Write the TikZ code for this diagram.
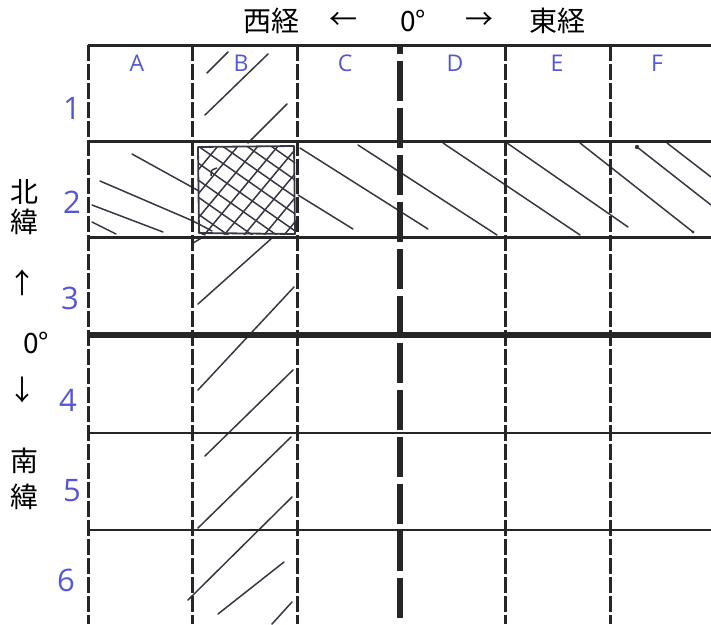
\documentclass[tikz,border=0pt]{standalone}
\usepackage{fontspec}
\newfontfamily\jp{Noto Sans CJK JP}
\newfontfamily\hand{Open Sans}
\definecolor{ink}{RGB}{85,85,215}
\definecolor{gridc}{RGB}{38,38,38}
\definecolor{pencil}{RGB}{55,55,68}
\begin{document}
\begin{tikzpicture}[x=1pt,y=-1pt,
  vline/.style={gridc,line width=3pt,dash pattern=on 16pt off 3pt},
  meridian/.style={gridc,line width=5.5pt,dash pattern=on 40pt off 7pt,dash phase=31pt},
  hline/.style={gridc,line width=#1},
  hatch/.style={pencil,line width=1.5pt,line cap=round},
  collbl/.style={text=ink,font=\hand\fontsize{23}{23}\selectfont,inner sep=0pt},
  rowlbl/.style={text=ink,font=\hand\fontsize{31}{31}\selectfont,inner sep=0pt},
  jlbl/.style={font=\jp\fontsize{28}{28}\selectfont,inner sep=0pt}]
\useasboundingbox (0,0) rectangle (711,624);
\begin{scope}
\clip (0,0) rectangle (711,624);
% hatching, row 2 (\ direction)
\draw[hatch] (132,154) -- (199,191);
\draw[hatch] (100,181) -- (193,221) -- (212,231);
\draw[hatch] (92,205) -- (163,232);
\draw[hatch] (92,222) -- (116,234);
\draw[hatch] (300,148) -- (428,229);
\draw[hatch] (298,195) -- (353,229);
\draw[hatch] (358,145) -- (497,235);
\draw[hatch] (443,143) -- (580,235);
\draw[hatch] (507,143) -- (628,227);
\draw[hatch] (580,143) -- (693,232);
\draw[hatch] (637,147) -- (711,205);
\draw[hatch] (667,143) -- (711,177);
\fill[pencil] (637,147) circle (2.2pt);
\fill[pencil] (693,232) circle (1.6pt);
% hatching, column B (/ direction)
\draw[hatch] (207,73) -- (228,52);
\draw[hatch] (268,54) -- (205,115);
\draw[hatch] (287,104) -- (248,143);
\draw[hatch] (193,243) -- (205,236);
\draw[hatch] (198,304) -- (272,238);
\draw[hatch] (294,287) -- (198,390);
\draw[hatch] (293,370) -- (205,456);
\draw[hatch] (291,437) -- (198,528);
\draw[hatch] (292,497) -- (188,600);
\draw[hatch] (284,562) -- (218,614);
\draw[hatch] (292,602) -- (272,624);
% cross-hatched cell B2
\begin{scope}
\clip (198,146) rectangle (295,234);
\foreach \k in {-2,...,10} {
  \draw[hatch] (198+20*\k,146) -- (198+20*\k-83,246);
}
\foreach \k in {-5,...,7} {
  \draw[hatch] (198,146+17*\k) -- (298,146+17*\k+70);
}
\end{scope}
\draw[pencil,line width=1.8pt,line join=round] (198,147) -- (294,146) -- (295,234) -- (199,233) -- cycle;
\draw[pencil,line width=1.5pt] (211,176) .. controls (211,170) .. (217,168);
% grid
\foreach \x in {88,192,297,505,610} {
  \draw[vline] (\x,45) -- (\x,624);
}
\draw[meridian] (400,45) -- (400,624);
\draw[hline=3pt] (88,45) -- (711,45);
\draw[hline=3pt] (88,141) -- (711,141);
\draw[hline=3pt] (88,237) -- (711,237);
\draw[hline=5.5pt] (88,335) -- (711,335);
\draw[hline=2.5pt] (88,433) -- (711,433);
\draw[hline=2.5pt] (88,530) -- (711,530);
\end{scope}
% title
\node[jlbl] (t1) at (271,21) {西経};
\node[jlbl] (t2) at (343,21) {←};
\node[jlbl] (t3) at (413,21) {0°};
\node[jlbl] (t4) at (479,21) {→};
\node[jlbl] (t5) at (557,21) {東経};
% left side
\node[jlbl] (n1) at (24,192) {北};
\node[jlbl] (n2) at (24,222) {緯};
\node[jlbl] (n3) at (23,283) {↑};
\node[jlbl] (n4) at (36,343) {0°};
\node[jlbl] (n5) at (23,390) {↓};
\node[jlbl] (n6) at (24,461) {南};
\node[jlbl] (n7) at (24,497) {緯};
% column letters
\node[collbl] (cA) at (137,63) {A};
\node[collbl] (cB) at (241,63) {B};
\node[collbl] (cC) at (345,63) {C};
\node[collbl] (cD) at (455,63) {D};
\node[collbl] (cE) at (557,63) {E};
\node[collbl] (cF) at (657,63) {F};
% row numbers
\node[rowlbl] (r1) at (72,108) {1};
\node[rowlbl] (r2) at (72,202) {2};
\node[rowlbl] (r3) at (70,298) {3};
\node[rowlbl] (r4) at (68,400) {4};
\node[rowlbl] (r5) at (72,491) {5};
\node[rowlbl] (r6) at (66,580) {6};
\end{tikzpicture}
\end{document}
